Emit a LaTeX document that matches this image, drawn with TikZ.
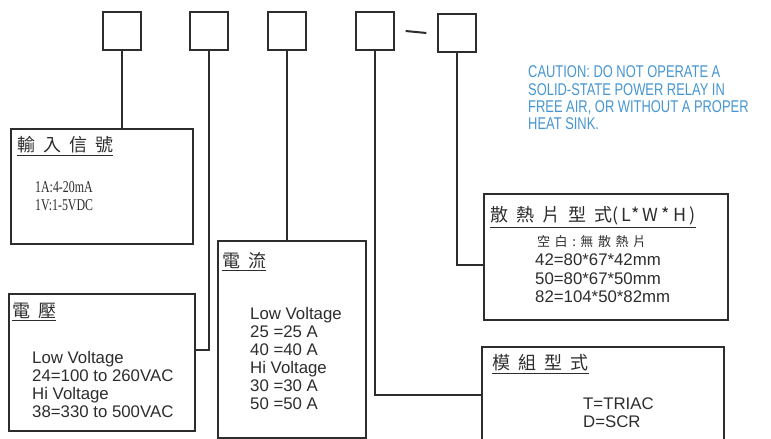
\documentclass[tikz,border=0pt]{standalone}
\usepackage{fontspec}
\setmainfont{Liberation Sans}
\newfontfamily\cjk[LetterSpace=45]{Noto Sans CJK TC}
\newfontfamily\cjkeng[LetterSpace=17]{Noto Sans CJK TC}
\newfontfamily\cjkklein[LetterSpace=35]{Noto Sans CJK TC}
\newfontfamily\schmal[FakeStretch=0.72]{Liberation Serif}
\newfontfamily\hinweis[FakeStretch=0.76]{Liberation Sans}
\usepackage{xcolor}
\definecolor{tinte}{RGB}{45,45,45}
\definecolor{warnblau}{RGB}{70,150,210}

\tikzset{
  kaestchen/.style={draw=tinte, line width=1.3pt, minimum size=38pt, inner sep=0pt},
  kasten/.style={draw=tinte, line width=2pt, anchor=north west, inner sep=0pt},
  leitung/.style={draw=tinte, line width=2pt},
  titel/.style={anchor=west, inner sep=0pt, text=tinte, font=\fontsize{18}{18}\cjk},
  inhalt/.style={anchor=west, inner sep=0pt, align=left, text=tinte, font=\fontsize{16.8}{17.8}\selectfont},
}

\begin{document}
\begin{tikzpicture}[x=1pt, y=-1pt]
	\useasboundingbox (0,0) rectangle (771,439);
	\fill[white] (0,0) rectangle (771,439);
	\clip (0,0) rectangle (771,439);
	% obere kaestchen und strich
	\node[kaestchen] (s1) at (122,31) {};
	\node[kaestchen] (s2) at (209,31) {};
	\node[kaestchen] (s3) at (287,31) {};
	\node[kaestchen] (s4) at (375,31) {};
	\node[kaestchen] (s5) at (457,33) {};
	\draw[leitung] ([xshift=11pt]s4.east) -- ([xshift=-11pt]s5.west);
	% kaesten
	\node[kasten, minimum width=182pt, minimum height=115pt] (b1) at (10,128) {};
	\node[kasten, minimum width=186pt, minimum height=137pt] (b2) at (8,293) {};
	\node[kasten, minimum width=148pt, minimum height=197pt] (b3) at (217,240) {};
	\node[kasten, minimum width=244pt, minimum height=126pt] (b4) at (483,193) {};
	\node[kasten, minimum width=242pt, minimum height=96pt] (b5) at (481,346) {};
	% leitungen
	\draw[leitung] (s1.south) -- (s1.south |- b1.north);
	\draw[leitung] (s2.south) |- ([yshift=12.5pt]b2.east);
	\draw[leitung] (s3.south) -- (s3.south |- b3.north);
	\draw[leitung] (s4.south) |- (b5.west);
	\draw[leitung] (s5.south) |- ([yshift=-8pt]b4.west);
	% eingangssignal
	\node[titel] (t1) at (17,146) {\underline{輸入信號}};
	\node[inhalt, font=\fontsize{16.5}{18.5}\schmal] (i1) at (35,196) {1A:4-20mA\\1V:1-5VDC};
	% spannung
	\node[titel] (t2) at (12,312) {\underline{電壓}};
	\node[inhalt] (i2) at (32,384.5) {Low Voltage\\24=100 to 260VAC\\Hi Voltage\\38=330 to 500VAC};
	% strom
	\node[titel] (t3) at (222,262) {\underline{電流}};
	\node[inhalt, font=\fontsize{16.8}{18}\selectfont] (i3) at (250,358) {Low Voltage\\25 =25 A\\40 =40 A\\Hi Voltage\\30 =30 A\\50 =50 A};
	% kuehlkoerper
	\node[titel] (t4) at (490,217) {\underline{散熱片型式{\cjkeng(L*W*H)}}};
	\node[inhalt, font=\fontsize{13}{13}\cjkklein] (u4) at (537,242) {空白:無散熱片};
	\node[inhalt, font=\fontsize{16.8}{18.5}\selectfont] (i4) at (535,278.5) {42=80*67*42mm\\50=80*67*50mm\\82=104*50*82mm};
	% modultyp
	\node[titel] (t5) at (492,364) {\underline{模組型式}};
	\node[inhalt] (i5) at (583,412.5) {T=TRIAC\\D=SCR};
	% warnhinweis
	\node[inhalt, text=warnblau, font=\fontsize{17}{17.3}\hinweis] (w) at (528,98) {CAUTION: DO NOT OPERATE A\\SOLID-STATE POWER RELAY IN\\FREE AIR, OR WITHOUT A PROPER\\HEAT SINK.};
\end{tikzpicture}
\end{document}
